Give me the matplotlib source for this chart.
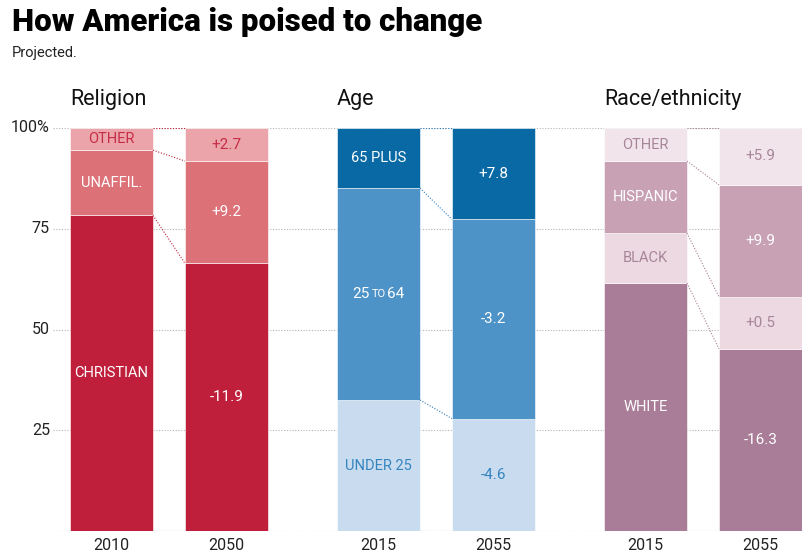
import matplotlib.pyplot as plt

# values (percent of population, bottom to top)
groups = ["Religion", "Age", "Race/ethnicity"]
years = [["2010", "2050"], ["2015", "2055"], ["2015", "2055"]]

religion_labels = ["CHRISTIAN", "UNAFFIL.", "OTHER"]
religion_start = [78.3, 16.2, 5.5]
religion_end = [66.4, 25.4, 8.2]
religion_change = [-11.9, 9.2, 2.7]

age_labels = ["UNDER 25", "25 TO 64", "65 PLUS"]
age_start = [32.5, 52.6, 14.9]
age_end = [27.9, 49.4, 22.7]
age_change = [-4.6, -3.2, 7.8]

race_labels = ["WHITE", "BLACK", "HISPANIC", "OTHER"]
race_start = [61.5, 12.4, 17.9, 8.2]
race_end = [45.2, 12.9, 27.8, 14.1]
race_change = [-16.3, 0.5, 9.9, 5.9]

# styling
religion_colors = ["#c01f3b", "#dd7178", "#eba4a9"]
religion_text = ["white", "white", "#c62c46"]
age_colors = ["#c9dcef", "#4e93c8", "#0869a5"]
age_text = ["#3584bf", "white", "white"]
race_colors = ["#a97d97", "#ecd9e1", "#c8a1b4", "#f1e4ea"]
race_text = ["white", "#a8869a", "white", "#a8869a"]
line_colors = ["#c01f3b", "#2f7fbf", "#a97d97"]

data = [
    (religion_labels, religion_start, religion_end, religion_change, religion_colors, religion_text),
    (age_labels, age_start, age_end, age_change, age_colors, age_text),
    (race_labels, race_start, race_end, race_change, race_colors, race_text),
]

plt.rcParams["font.family"] = ["Roboto", "DejaVu Sans"]

W, H = 803, 555
fig = plt.figure(figsize=(W / 100, H / 100), dpi=100)
ax = fig.add_axes([53 / W, (H - 531) / H, 1 - 53 / W, (531 - 128) / H])
ax.set_xlim(53, 803)
ax.set_ylim(0, 100)
for s in ax.spines.values():
    s.set_visible(False)
ax.set_xticks([])
ax.set_yticks([])

# gridlines
for g in [0, 25, 50, 75, 100]:
    ax.axhline(g, color="#b5b5b5", lw=0.8, ls=(0, (1, 1.5)), zorder=0)
for g, lab in zip([25, 50, 75, 100], ["25", "50", "75", "100%"]):
    fig.text(50 / W, 1 - (531 - g * 4.03) / H, lab, ha="right", va="center",
             fontsize=11.5, color="#222222")

bw = 83
for gi, (labels, start, end, change, colors, tcolors) in enumerate(data):
    c0 = 111.5 + gi * 267
    c1 = c0 + 115
    b0 = 0
    b1 = 0
    # connector at the base
    ax.plot([c0 + bw / 2, c1 - bw / 2], [0, 0], color=line_colors[gi], lw=0.8,
            ls=(0, (1, 1.5)), zorder=3, alpha=0.7)
    for i in range(len(labels)):
        ax.bar(c0, start[i], bw, bottom=b0, color=colors[i], edgecolor="white",
               linewidth=0.4, zorder=2)
        ax.bar(c1, end[i], bw, bottom=b1, color=colors[i], edgecolor="white",
               linewidth=0.4, zorder=2)
        lab = labels[i]
        y0 = b0 + start[i] / 2
        if lab == "25 TO 64":
            ax.text(c0 - 9, y0, "25", ha="right", va="center", fontsize=11, color=tcolors[i], zorder=4)
            ax.text(c0, y0, "TO", ha="center", va="center", fontsize=8, color=tcolors[i], zorder=4)
            ax.text(c0 + 9, y0, "64", ha="left", va="center", fontsize=11, color=tcolors[i], zorder=4)
        else:
            ax.text(c0, y0, lab, ha="center", va="center", fontsize=10.5,
                    color=tcolors[i], zorder=4)
        ax.text(c1, b1 + end[i] / 2, f"{change[i]:+.1f}", ha="center", va="center",
                fontsize=11, color=tcolors[i], zorder=4)
        b0 += start[i]
        b1 += end[i]
        ax.plot([c0 + bw / 2, c1 - bw / 2], [b0, b1], color=line_colors[gi], lw=0.8,
                ls=(0, (1, 1.5)), zorder=3)
    # group title and year labels
    fig.text((c0 - bw / 2) / W, 1 - 100 / H, groups[gi], ha="left", va="center",
             fontsize=15.5, color="#111111")
    for c, yr in zip([c0, c1], years[gi]):
        fig.text(c / W, 1 - 546 / H, yr, ha="center", va="center", fontsize=11.5,
                 color="#222222")

fig.text(12 / W, 1 - 22 / H, "How America is poised to change", ha="left", va="center",
         fontsize=22.5, fontweight="black", color="black")
fig.text(12 / W, 1 - 53 / H, "Projected.", ha="left", va="center", fontsize=10.5,
         color="#222222")

fig.savefig("out.png", dpi=100, facecolor="white")
